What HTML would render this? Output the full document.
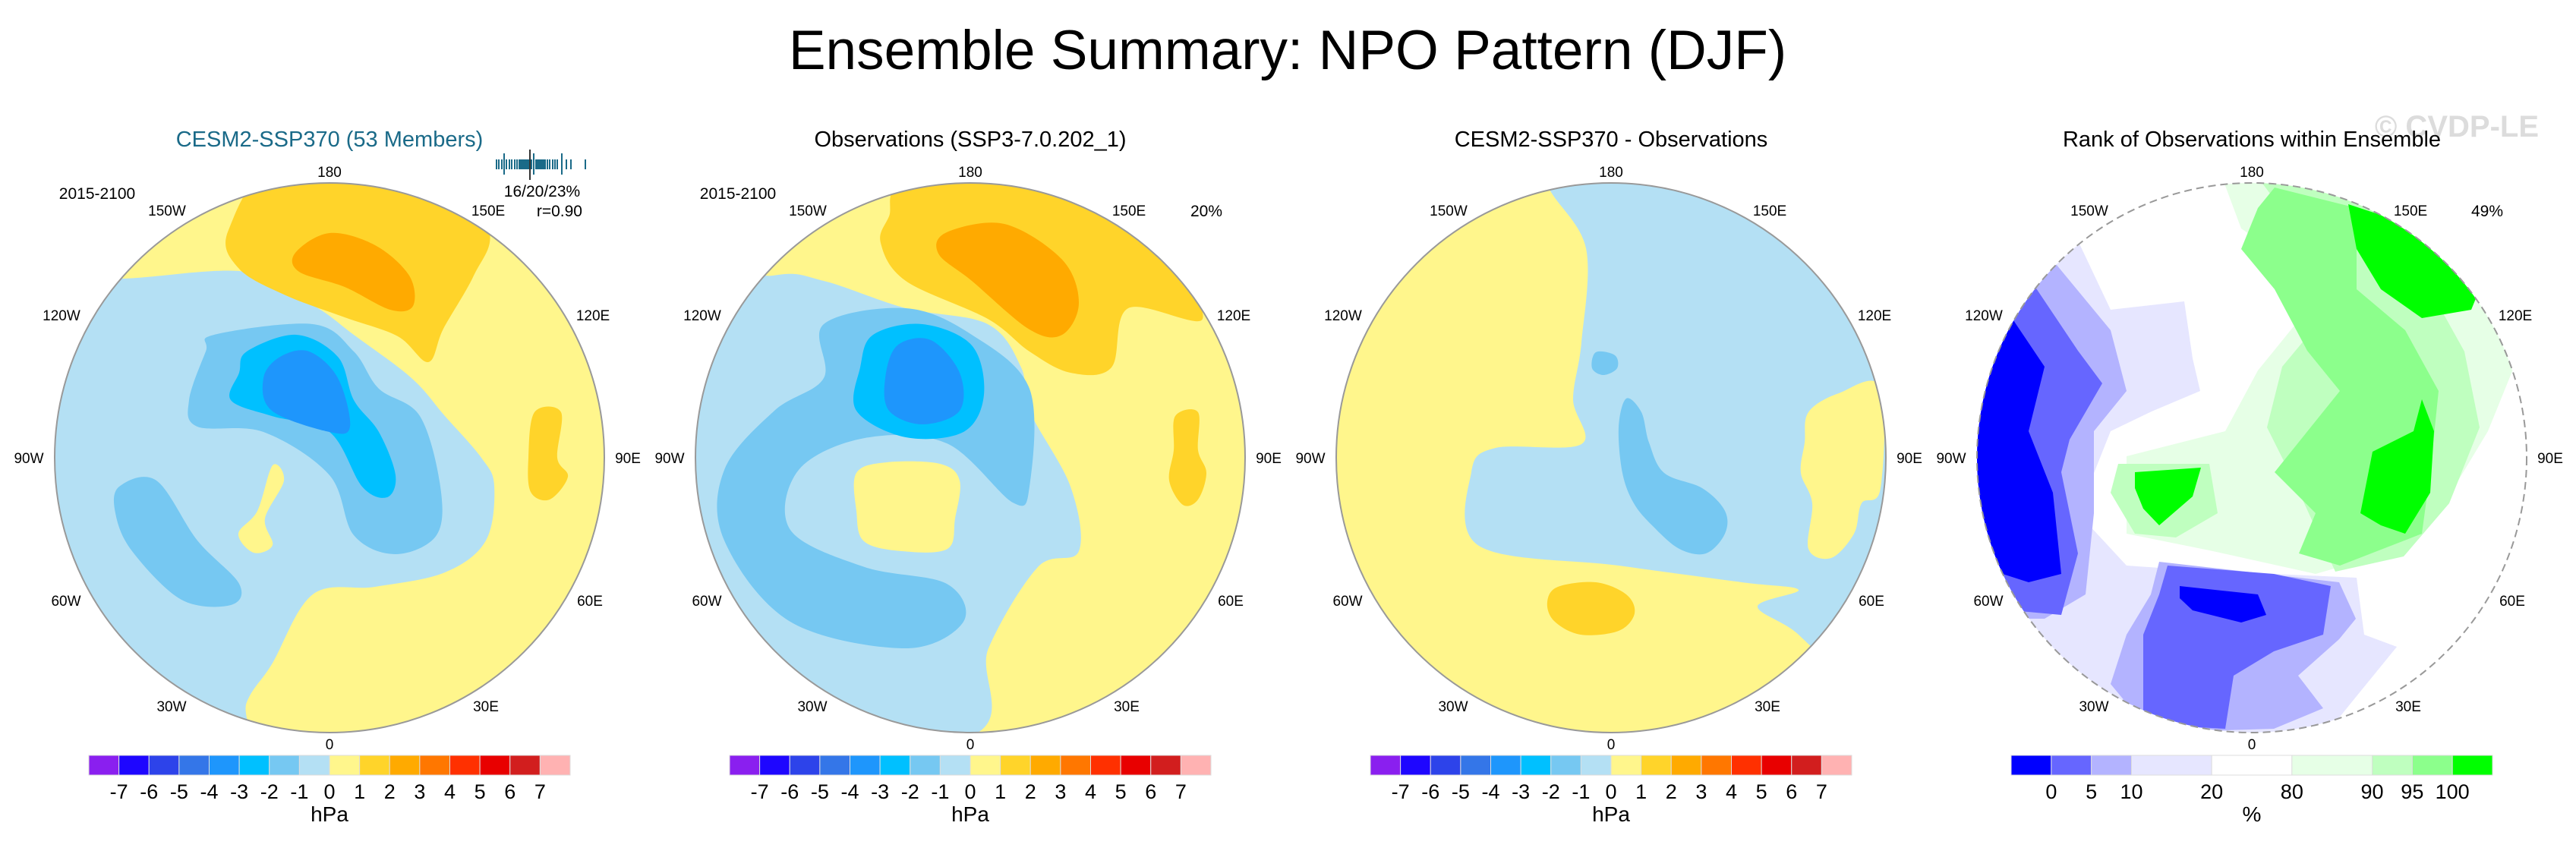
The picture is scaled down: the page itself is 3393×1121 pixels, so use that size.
<!DOCTYPE html>
<html><head><meta charset="utf-8">
<style>
html,body{margin:0;padding:0;background:#fff;}
body{width:3393px;height:1116px;overflow:hidden;font-family:"Liberation Sans",sans-serif;}
svg text{font-family:"Liberation Sans",sans-serif;}
</style></head>
<body>
<svg id="fig" width="3393" height="1116" viewBox="0 0 3393 1116" xmlns="http://www.w3.org/2000/svg">
<text x="1696" y="91" font-size="73" text-anchor="middle" fill="#000">Ensemble Summary: NPO Pattern (DJF)</text>
<text x="3344" y="180" font-size="40" font-weight="bold" text-anchor="end" fill="#dcdcdc">© CVDP-LE</text>
</svg>
<script>
// ---- data ----
const panelCenters = [434, 1278, 2122, 2966];
const panelTitles = ["CESM2-SSP370 (53 Members)", "Observations (SSP3-7.0.202_1)", "CESM2-SSP370 - Observations", "Rank of Observations within Ensemble"];
const hpaLevels = [-7,-6,-5,-4,-3,-2,-1,0,1,2,3,4,5,6,7];
const hpaColors = ["#8a1fef","#1e06ff","#2d43ea","#3476e8","#1e96fc","#00c0ff","#76c8f2","#b4e0f4","#fff68c","#ffd42a","#ffaa00","#ff7700","#ff3000","#e80000","#d21e1e","#ffb2b2"];
const rankLevels = [0,5,10,20,80,90,95,100];
const rankColors = ["#0000ff","#6666ff","#b3b3ff","#e6e6ff","#ffffff","#e6ffe6","#bfffbf","#8cff8c","#00ff00"];
const rankUnits = [1,1,1,2,2,2,1,1,1];
const ensembleTicks = [654,657,661,664,667,671,674,678,681,684,686,688,690,692,694,696,700,703,706,708,710,712,714,716,718,721,724,728,731,734,740,746,752,771];
const tallTicks = [664,703,740];
const obsTick = 698;
const labelTexts = ["180","150W","150E","120W","120E","90W","90E","60W","60E","30W","30E","0"];
const labelDx = [0,-214,209,-353,347,-396,393,-347,343,-208,206,0];
const labelDy = [-377,-326,-326,-188,-188,0,0,188,188,327,327,377];

const fields = [
 {bg:"#fff68c", smooth:true, shapes:[
  ["#b4e0f4",[[-400,-236],[-271,-236],[-109,-245],[-20,-200],[32,-162],[108,-105],[152,-55],[200,0],[217,37],[206,109],[152,151],[60,170],[-22,180],[-76,272],[-109,322],[-130,400],[-400,400]]],
  ["#fff68c",[[-75,10],[-60,30],[-85,80],[-75,115],[-100,125],[-120,100],[-95,70]]],
  ["#ffd42a",[[-133,-300],[-120,-250],[-60,-215],[20,-185],[90,-160],[130,-126],[150,-170],[190,-240],[210,-300],[150,-380],[-60,-390]]],
  ["#ffaa00",[[-45,-270],[0,-296],[60,-280],[105,-240],[110,-200],[80,-195],[20,-225],[-40,-245]]],
  ["#ffd42a",[[270,-60],[305,-60],[300,0],[314,25],[290,55],[265,45],[262,0]]],
  ["#76c8f2",[[-152,-162],[-22,-176],[32,-140],[65,-91],[119,-55],[146,38],[141,102],[87,127],[32,102],[0,23],[-87,-34],[-174,-41],[-185,-76],[-163,-140]]],
  ["#76c8f2",[[-277,38],[-228,30],[-174,109],[-119,166],[-130,194],[-195,187],[-260,123],[-282,73]]],
  ["#00c0ff",[[-109,-140],[-44,-162],[11,-133],[32,-76],[65,-34],[87,23],[76,52],[43,38],[0,-34],[-76,-55],[-130,-76],[-119,-112]]],
  ["#1e96fc",[[-65,-133],[-27,-140],[11,-105],[27,-41],[0,-34],[-76,-62],[-87,-105]]]
 ]},
 {bg:"#fff68c", smooth:true, shapes:[
  ["#b4e0f4",[[-400,-200],[-260,-240],[-193,-233],[-85,-197],[23,-176],[67,-119],[78,-62],[132,38],[143,123],[89,144],[24,251],[-9,370],[-400,370]]],
  ["#76c8f2",[[-193,-176],[-85,-197],[2,-162],[78,-91],[78,38],[56,59],[-31,-19],[-139,-26],[-226,16],[-237,95],[-139,144],[-31,166],[-9,216],[-85,251],[-237,216],[-324,109],[-324,16],[-258,-62],[-193,-105]]],
  ["#fff68c",[[-150,20],[-110,6],[-40,8],[-14,30],[-20,80],[-30,120],[-90,123],[-140,110],[-150,70]]],
  ["#00c0ff",[[-128,-162],[-63,-176],[2,-148],[18,-83],[-9,-34],[-85,-27],[-150,-62],[-145,-119]]],
  ["#1e96fc",[[-96,-148],[-52,-155],[-14,-112],[-14,-62],[-63,-44],[-107,-62],[-112,-105]]],
  ["#ffd42a",[[-107,-318],[-118,-283],[-85,-233],[23,-183],[78,-140],[132,-112],[186,-119],[208,-197],[306,-183],[240,-283],[78,-361],[-85,-361]]],
  ["#ffaa00",[[-31,-297],[45,-308],[121,-261],[143,-204],[121,-162],[78,-169],[2,-233],[-42,-269]]],
  ["#ffd42a",[[270,-55],[300,-60],[300,-10],[311,20],[300,55],[280,62],[262,30],[268,-10]]]
 ]},
 {bg:"#b4e0f4", smooth:true, shapes:[
  ["#fff68c",[[-82,-400],[-82,-356],[-33,-276],[-39,-152],[-50,-77],[-39,-18],[-152,-13],[-184,19],[-174,116],[10,142],[172,164],[247,174],[193,196],[247,233],[300,300],[300,400],[-400,400],[-400,-400]]],
  ["#ffd42a",[[-70,170],[-20,164],[20,180],[31,205],[10,228],[-40,233],[-75,215],[-84,190]]],
  ["#76c8f2",[[20,-78],[40,-60],[50,-20],[70,20],[120,40],[150,70],[150,100],[125,126],[90,120],[55,90],[30,60],[15,20],[10,-40]]],
  ["#76c8f2",[[-20,-139],[5,-135],[8,-118],[-10,-109],[-25,-118]]],
  ["#fff68c",[[260,-60],[300,-85],[355,-93],[355,40],[330,60],[320,100],[290,132],[260,120],[265,60],[250,20],[255,-20]]]
 ]},
 {bg:"#ffffff", smooth:false, shapes:[
  ["#e6e6ff",[[-229,-286],[-186,-195],[-89,-206],[-78,-131],[-68,-88],[-132,-61],[-186,-35],[-229,73],[-165,142],[-78,148],[138,158],[148,233],[191,249],[138,314],[95,367],[95,420],[-400,420],[-400,-286]]],
  ["#b3b3ff",[[-262,-260],[-186,-168],[-165,-88],[-208,-35],[-208,73],[-219,180],[-273,212],[-400,212],[-400,-260]]],
  ["#b3b3ff",[[-122,137],[115,164],[137,212],[115,239],[61,287],[94,330],[29,357],[-133,362],[-186,298],[-165,233],[-133,180]]],
  ["#6666ff",[[-294,-238],[-229,-141],[-197,-98],[-240,-24],[-251,19],[-229,126],[-251,207],[-316,201],[-400,200],[-400,-238]]],
  ["#6666ff",[[-111,142],[29,153],[104,169],[94,233],[29,255],[-24,287],[-35,357],[-143,351],[-143,233],[-122,180]]],
  ["#0000ff",[[-316,-184],[-273,-120],[-294,-35],[-262,46],[-251,153],[-294,164],[-400,130],[-400,-184]]],
  ["#0000ff",[[-95,169],[8,180],[19,207],[-14,217],[-78,201],[-95,185]]],
  ["#e6ffe6",[[-36,-361],[-14,-302],[62,-249],[73,-195],[8,-115],[-35,-35],[-165,-2],[-165,100],[-56,122],[84,153],[192,122],[246,73],[311,-35],[354,-141],[300,-249],[300,-400],[-36,-400]]],
  ["#bfffbf",[[0,-380],[60,-300],[110,-240],[90,-180],[40,-120],[20,-40],[60,40],[110,150],[200,130],[260,60],[300,-40],[280,-140],[230,-230],[180,-380]]],
  ["#8cff8c",[[30,-356],[138,-329],[138,-222],[202,-168],[246,-88],[235,19],[224,100],[116,142],[62,126],[84,73],[30,19],[116,-88],[73,-141],[30,-222],[-14,-275],[8,-329]]],
  ["#bfffbf",[[-176,8],[-56,8],[-45,73],[-100,105],[-154,100],[-186,46]]],
  ["#00ff00",[[127,-334],[224,-302],[300,-222],[289,-195],[224,-184],[170,-222],[138,-275]]],
  ["#00ff00",[[224,-77],[240,-35],[235,46],[202,100],[170,89],[143,73],[159,-8],[213,-35]]],
  ["#00ff00",[[-154,19],[-67,13],[-78,51],[-122,89],[-143,67],[-154,40]]]
 ]}
];

const NS = "http://www.w3.org/2000/svg";
const svg = document.getElementById('fig');
const R = 362, CY = 603;
function mk(tag, attrs, parent){ const e=document.createElementNS(NS,tag); for(const k in attrs) e.setAttribute(k,attrs[k]); (parent||svg).appendChild(e); return e; }
function smoothPath(pts, cx){
  const P = pts.map(p=>[p[0]+cx, p[1]+CY]); const n=P.length; let d=`M${P[0][0]},${P[0][1]}`;
  for(let i=0;i<n;i++){ const p0=P[(i-1+n)%n],p1=P[i],p2=P[(i+1)%n],p3=P[(i+2)%n];
    const c1=[p1[0]+(p2[0]-p0[0])/6,p1[1]+(p2[1]-p0[1])/6], c2=[p2[0]-(p3[0]-p1[0])/6,p2[1]-(p3[1]-p1[1])/6];
    d+=` C${c1[0]},${c1[1]} ${c2[0]},${c2[1]} ${p2[0]},${p2[1]}`; }
  return d+"Z";
}
function polyPath(pts,cx){ return "M"+pts.map(p=>(p[0]+cx)+","+(p[1]+CY)).join(" L")+"Z"; }

const defs = mk('defs',{});
panelCenters.forEach((cx,pi)=>{
  const cp = mk('clipPath',{id:'clip'+pi},defs); mk('circle',{cx:cx,cy:CY,r:R},cp);
  const g = mk('g',{'clip-path':`url(#clip${pi})`});
  
  
  const f = fields[pi];
  mk('circle',{cx:cx,cy:CY,r:R,fill:f.bg},g);
  f.shapes.forEach((s,si)=>{
    const p = mk('path',{d: f.smooth?smoothPath(s[1],cx):polyPath(s[1],cx), fill:s[0]},g);
    
    
  });
  const edge = mk('circle',{cx:cx,cy:CY,r:R,fill:'none',stroke:'#999','stroke-width':2,'stroke-dasharray':pi===3?'10 6':'none'});
  
  
  const t = mk('text',{x:cx,y:193,'font-size':29,'text-anchor':'middle',fill:pi===0?'#1a6a88':'#000'});
  t.textContent = panelTitles[pi];
  
  
  labelTexts.forEach((lt,li)=>{
    const l = mk('text',{x:cx+labelDx[li],y:CY+labelDy[li]+7,'font-size':19,'text-anchor':'middle',fill:'#000'});
    l.textContent = lt;
    
    
  });
  const bx = cx-317, by=995, bh=26, bw=634;
  if(pi<3){
    const w = bw/hpaColors.length;
    hpaColors.forEach((c,i)=>{ const r=mk('rect',{x:bx+i*w,y:by,width:w,height:bh,fill:c,stroke:'#ddd','stroke-width':1});
      
       });
    hpaLevels.forEach((v,i)=>{ const l=mk('text',{x:bx+(i+1)*w,y:1052,'font-size':27,'text-anchor':'middle'}); l.textContent=v;
      
       });
    const u=mk('text',{x:cx,y:1082,'font-size':28,'text-anchor':'middle'}); u.textContent='hPa';
    
    
  } else {
    const tot = rankUnits.reduce((a,b)=>a+b,0), uw = bw/tot; let x=bx; const bounds=[];
    rankColors.forEach((c,i)=>{ const w=rankUnits[i]*uw; const r=mk('rect',{x:x,y:by,width:w,height:bh,fill:c,stroke:'#ddd','stroke-width':1});
      
      
      x+=w; bounds.push(x); });
    rankLevels.forEach((v,i)=>{ const l=mk('text',{x:bounds[i],y:1052,'font-size':27,'text-anchor':'middle'}); l.textContent=v;
      
       });
    const u=mk('text',{x:cx,y:1082,'font-size':28,'text-anchor':'middle'}); u.textContent='%';
    
    
  }
});
function txt(x,y,s,anchor,name,size){ const t=mk('text',{x:x,y:y,'font-size':size||21,'text-anchor':anchor}); t.textContent=s;
  
   }
txt(128,262,"2015-2100","middle","period-label");
txt(972,262,"2015-2100","middle","period-label");
txt(714,259,"16/20/23%","middle","percent-stats");
txt(767,285,"r=0.90","end","pattern-correlation");
txt(1589,285,"20%","middle","explained-variance");
txt(3276,285,"49%","middle","rank-percent");
ensembleTicks.forEach(x=>{ const l=mk('line',{x1:x,x2:x,y1:210,y2:223,stroke:'#1a6a88','stroke-width':2});
  
   });
tallTicks.forEach(x=>{ const l=mk('line',{x1:x,x2:x,y1:202,y2:230,stroke:'#1a6a88','stroke-width':2});
  
   });
const ob=mk('line',{x1:obsTick,x2:obsTick,y1:197,y2:237,stroke:'#333','stroke-width':2});


</script>
</body></html>
